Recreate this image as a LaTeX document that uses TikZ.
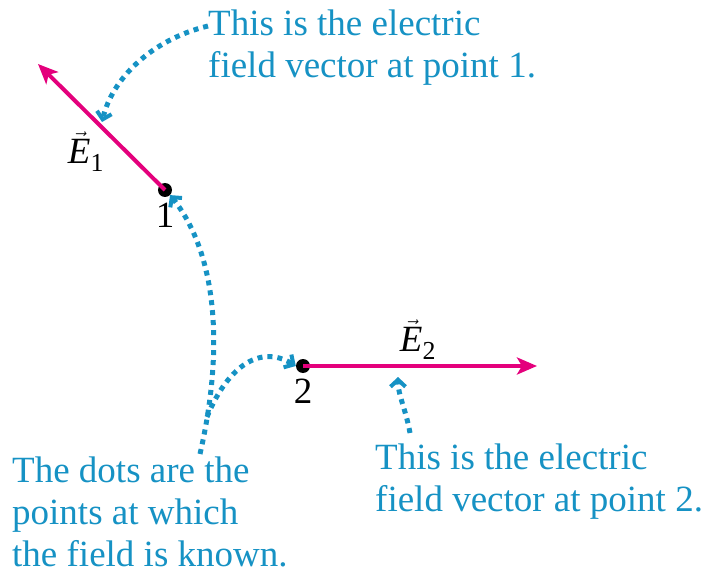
\documentclass[tikz,border=0pt]{standalone}
\usepackage{amsmath}
\usepackage{fontspec}
\setmainfont{Liberation Serif}
\usepackage{xcolor}
\usepackage{tikz}
\usetikzlibrary{arrows.meta, positioning}

\definecolor{fieldmag}{RGB}{228,0,124}
\definecolor{noteblue}{RGB}{22,146,196}

\begin{document}
\begin{tikzpicture}[
    x=1pt, y=-1pt,
    node distance=6pt,
    every node/.style={font=\fontsize{37}{42}\selectfont},
    note/.style={text=noteblue, align=left, inner sep=0pt, anchor=north west},
    ptdot/.style={circle, fill=black, inner sep=0pt, minimum size=14pt},
    ptlabel/.style={inner sep=0pt},
    field/.style={-{Stealth[length=20pt, width=17pt, inset=5pt]}, line width=4pt, draw=fieldmag, fill=fieldmag},
    pointer/.style={-{Straight Barb[length=7pt, width=15pt, line width=4pt]}, line width=5pt, draw=noteblue, dash pattern=on 5pt off 5pt}
]
\useasboundingbox (0,0) rectangle (710,575);
% field points
\node[ptdot] (p1) at (165,190) {};
\node[ptdot] (p2) at (303,366) {};
\node[ptlabel, below=of p1] (l1) {1};
\node[ptlabel, below=of p2] (l2) {2};
\coordinate (E1tip) at (38,64);
\coordinate (E2tip) at (537,366);
\draw[field] (p1.center) -- (E1tip);
\draw[field] (p2.center) -- (E2tip);
\node[ptlabel] (E1) at (86,152) {$\vec{\textit{E}}_{\text{1}}$};
\node[ptlabel] (E2) at (418,340) {$\vec{\textit{E}}_{\text{2}}$};
% notes
\node[note] (noteE1) at (208,10) {This is the electric\\field vector at point 1.};
\node[note] (noteE2) at (375,444) {This is the electric\\field vector at point 2.};
\node[note] (notedots) at (12,457) {The dots are the\\points at which\\the field is known.};
% pointers
\coordinate (onE1) at (102,122);
\coordinate (onE2) at (398,377);
\draw[pointer] (noteE1.north west) ++(0,16) .. controls (150,40) and (112,80) .. (onE1);
\draw[pointer] (notedots.north west) ++(188,-3) .. controls (226,340) and (214,250) .. (p1.south east);
\draw[pointer] (notedots.north west) ++(195,-40) .. controls (226,370) and (258,343) .. (p2.west);
\draw[pointer] (noteE2.north west) ++(35,-11) .. controls (406,410) and (398,395) .. (onE2);
\end{tikzpicture}
\end{document}
